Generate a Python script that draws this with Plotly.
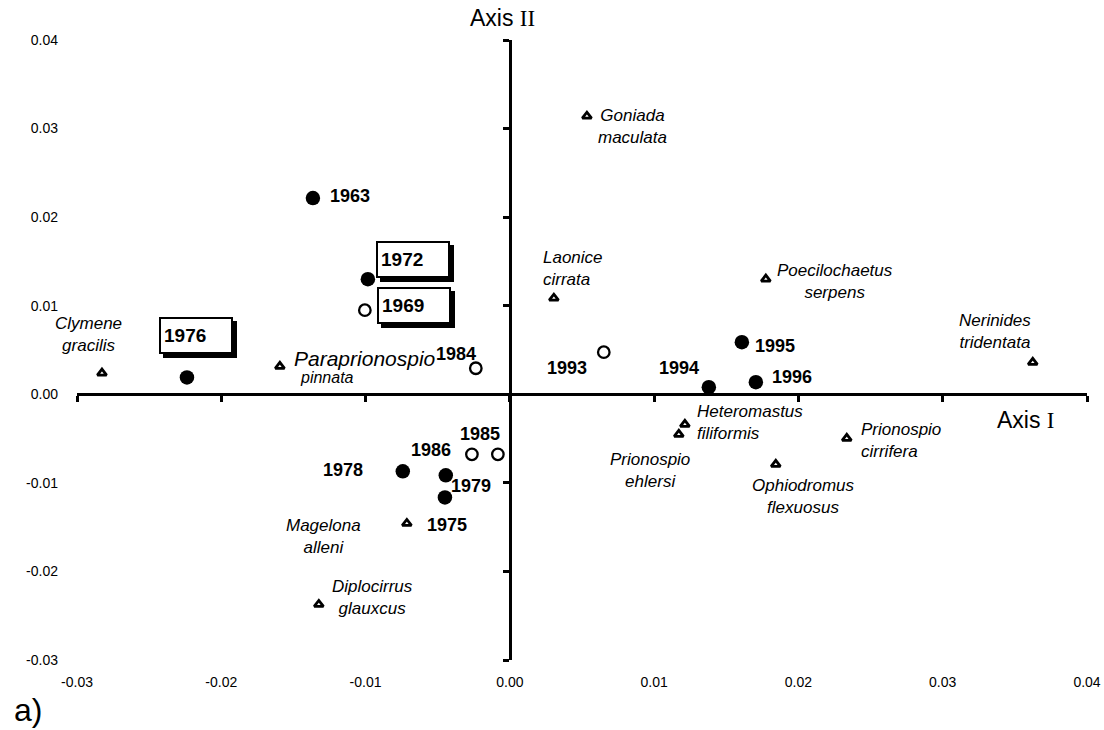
import plotly.graph_objects as go

# ---------------- data ----------------
filled_years = ["1963", "1972", "1976", "1978", "1979", "1975", "1994", "1995", "1996"]
filled_x = [-0.01365, -0.00984, -0.02238, -0.00742, -0.00444, -0.00450, 0.01379, 0.01608, 0.01705]
filled_y = [0.02215, 0.01300, 0.00190, -0.00870, -0.00915, -0.01164, 0.00080, 0.00588, 0.00136]

open_years = ["1969", "1984", "1986", "1985", "1993"]
open_x = [-0.01005, -0.00236, -0.00263, -0.00083, 0.00651]
open_y = [0.00950, 0.00294, -0.00678, -0.00678, 0.00475]

species = ["Clymene<br>gracilis", "Paraprionospio", "Goniada<br>maculata", "Laonice<br>cirrata",
           "Poecilochaetus<br>serpens", "Nerinides<br>tridentata", "Heteromastus<br>filiformis",
           "Prionospio<br>ehlersi", "Prionospio<br>cirrifera", "Ophiodromus<br>flexuosus",
           "Magelona<br>alleni", "Diplocirrus<br>glauxcus"]
species_x = [-0.02827, -0.01594, 0.00534, 0.00305, 0.01774, 0.03624, 0.01213,
             0.01171, 0.02335, 0.01843, -0.00714, -0.01324]
species_y = [0.00240, 0.00316, 0.03140, 0.01085, 0.01300, 0.00360, -0.00339,
             -0.00452, -0.00497, -0.00791, -0.01458, -0.02373]

tick_vals = [-0.03, -0.02, -0.01, 0.00, 0.01, 0.02, 0.03, 0.04]
tick_text = ["-0.03", "-0.02", "-0.01", "0.00", "0.01", "0.02", "0.03", "0.04"]

boxed_years = ["1972", "1969", "1976"]

# ---------------- label styling (pixel offsets) ----------------
year_off = {
    "1963": (37.5, 2), "1978": (-60, 1), "1979": (25, -11), "1975": (2, -28),
    "1994": (-30, 19), "1995": (33, -4), "1996": (36, 5),
    "1984": (-20, 14), "1986": (-41, 4), "1985": (-18, 20), "1993": (-37, -16),
    "1972": (45, 19.5), "1969": (49, 5), "1976": (9.5, 41.5),
}
# (dx, dy, xanchor, align)
sp_off = [(-13, 39, "center", "center"), (12, 8, "left", "left"), (46, -10.5, "center", "center"),
          (-13, 29.5, "left", "left"), (69, -2, "center", "center"), (-38, 31, "center", "center"),
          (10, 2, "left", "left"), (-29, -36, "center", "center"), (12, -2, "left", "left"),
          (28, -32, "center", "center"), (-83, -13.5, "center", "center"), (54, 6.5, "center", "center")]

FONT = "Liberation Sans, Arial, Helvetica, sans-serif"
SERIF = "Liberation Serif, Times New Roman, serif"

fig = go.Figure()

fig.add_trace(go.Scatter(
    x=species_x, y=species_y, mode="markers", hoverinfo="skip",
    marker=dict(symbol="triangle-up", size=8, color="white", line=dict(color="black", width=2.8)),
    showlegend=False))
fig.add_trace(go.Scatter(
    x=open_x, y=open_y, mode="markers", hoverinfo="skip",
    marker=dict(symbol="circle", size=11.5, color="white", line=dict(color="black", width=2.3)),
    showlegend=False))
fig.add_trace(go.Scatter(
    x=filled_x, y=filled_y, mode="markers", hoverinfo="skip",
    marker=dict(symbol="circle", size=14.5, color="black", line=dict(width=0)),
    showlegend=False))
# empty trace to host the crossing axes
fig.add_trace(go.Scatter(x=[], y=[], xaxis="x2", yaxis="y2", showlegend=False, hoverinfo="skip"))

annotations = []

# year labels
for names, xs, ys in ((filled_years, filled_x, filled_y), (open_years, open_x, open_y)):
    for n, xv, yv in zip(names, xs, ys):
        dx, dy = year_off[n]
        if n in boxed_years:
            common = dict(x=xv, y=yv, xref="x", yref="y", showarrow=False,
                          width=64, height=27, borderpad=3, borderwidth=2, align="left",
                          xanchor="center", yanchor="middle",
                          font=dict(family=FONT, size=19, color="black"))
            annotations.append(dict(common, text="<b>" + n + "</b>", bgcolor="black",
                                    bordercolor="black", xshift=dx + 4, yshift=dy - 4))
            annotations.append(dict(common, text="<b>" + n + "</b>", bgcolor="white",
                                    bordercolor="black", xshift=dx, yshift=dy))
        else:
            annotations.append(dict(x=xv, y=yv, xref="x", yref="y", showarrow=False,
                                    text="<b>" + n + "</b>", xanchor="center", yanchor="middle",
                                    xshift=dx, yshift=dy,
                                    font=dict(family=FONT, size=18, color="black")))

# species labels
for name, xv, yv, (dx, dy, xa, al) in zip(species, species_x, species_y, sp_off):
    if name == "Paraprionospio":
        annotations.append(dict(x=xv, y=yv, xref="x", yref="y", showarrow=False,
                                text="<i>Paraprionospio</i>", xanchor="left", yanchor="middle",
                                xshift=12, yshift=8,
                                font=dict(family=FONT, size=21, color="black")))
        annotations.append(dict(x=xv, y=yv, xref="x", yref="y", showarrow=False,
                                text="<i>pinnata</i>", xanchor="left", yanchor="middle",
                                xshift=18, yshift=-11,
                                font=dict(family=FONT, size=16, color="black")))
        continue
    annotations.append(dict(x=xv, y=yv, xref="x", yref="y", showarrow=False,
                            text="<i>" + name + "</i>", xanchor=xa, yanchor="middle", align=al,
                            xshift=dx, yshift=dy,
                            font=dict(family=FONT, size=17, color="black")))

# axis titles and panel tag
annotations.append(dict(x=0, y=1, xref="x", yref="paper", showarrow=False,
                        text='Axis <span style="font-family:' + SERIF + '">II</span>',
                        xanchor="center", yanchor="middle", xshift=-7, yshift=22,
                        font=dict(family=FONT, size=23, color="black")))
annotations.append(dict(x=1, y=0, xref="paper", yref="y", showarrow=False,
                        text='Axis <span style="font-family:' + SERIF + '">I</span>',
                        xanchor="right", yanchor="middle", xshift=-30, yshift=-26,
                        font=dict(family=FONT, size=23, color="black")))
annotations.append(dict(x=0, y=0, xref="paper", yref="paper", showarrow=False,
                        text="a)", xanchor="center", yanchor="middle", xshift=-49, yshift=-50,
                        font=dict(family=FONT, size=32, color="black")))

cross_pos = 3 / 7  # where zero lies within the [-0.03, 0.04] ranges

fig.update_layout(
    width=1104, height=730,
    margin=dict(l=77, r=17, t=40, b=70),
    paper_bgcolor="white", plot_bgcolor="white",
    font=dict(family=FONT, size=14, color="black"),
    annotations=annotations,
    xaxis=dict(range=[-0.03, 0.04], showgrid=False, zeroline=False, showline=False,
               automargin=False,
               ticks="", tickvals=tick_vals, ticktext=tick_text, ticklabelstandoff=12,
               tickfont=dict(family=FONT, size=14, color="black")),
    yaxis=dict(range=[-0.03, 0.04], showgrid=False, zeroline=False, showline=False,
               automargin=False,
               ticks="", tickvals=tick_vals, ticktext=tick_text, ticklabelstandoff=18,
               tickfont=dict(family=FONT, size=14, color="black")),
    xaxis2=dict(overlaying="x", matches="x", anchor="free", position=cross_pos,
                automargin=False,
                range=[-0.03, 0.04], showgrid=False, zeroline=False, showline=True,
                linecolor="black", linewidth=2.5, ticks="outside", ticklen=6, tickwidth=2.5,
                tickcolor="black", tickvals=tick_vals, showticklabels=False),
    yaxis2=dict(overlaying="y", matches="y", anchor="free", position=cross_pos, side="left",
                automargin=False,
                range=[-0.03, 0.04], showgrid=False, zeroline=False, showline=True,
                linecolor="black", linewidth=2.5, ticks="outside", ticklen=6, tickwidth=2.5,
                tickcolor="black", tickvals=tick_vals, showticklabels=False),
)

fig.write_html("out.html", post_script="document.body.style.margin='0';",
               config={"displayModeBar": False})
